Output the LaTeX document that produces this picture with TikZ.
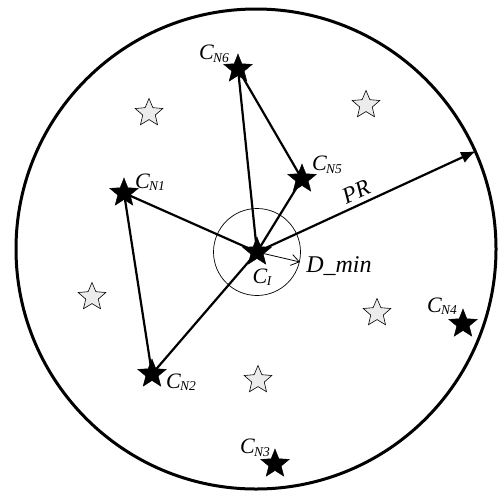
\documentclass[tikz,border=0pt]{standalone}
\usepackage{fontspec}
\setmainfont{Liberation Serif}
\usetikzlibrary{shapes.geometric,arrows.meta}
\newcommand\clab[1]{\fontsize{22}{22}\selectfont\itshape C\kern-0.5pt\raisebox{-2.5pt}{\fontsize{13.5}{13.5}\selectfont #1}}
\begin{document}
\begin{tikzpicture}[x=1pt,y=-1pt,
  bstar/.style={star,star points=5,star point ratio=2.3,minimum size=30pt,inner sep=0pt,fill=black,draw=black,line width=0.4pt},
  gstar/.style={star,star points=5,star point ratio=2.2,minimum size=29pt,inner sep=0pt,fill=gray!15,draw=black,line width=0.6pt},
  link/.style={line width=2.2pt},
  lbl/.style={inner sep=0pt}]
\useasboundingbox (0,0) rectangle (500,490);
\fill[white] (0,0) rectangle (500,490);
% outer circle
\node[circle,draw,line width=3pt,minimum size=480pt,inner sep=0pt] (range) at (256,249) {};
% stars
\node[gstar] (g1) at (149,113) {};
\node[gstar] (g2) at (366,105) {};
\node[gstar] (g3) at (92,297) {};
\node[gstar] (g4) at (377,313) {};
\node[gstar] (g5) at (258,380) {};
\node[bstar] (ci) at (257,252) {};
\node[bstar] (n1) at (124,193) {};
\node[bstar] (n2) at (152,374) {};
\node[bstar] (n3) at (275,464) {};
\node[bstar] (n4) at (463,324) {};
\node[bstar] (n5) at (302,179) {};
\node[bstar] (n6) at (238,69) {};
% min-distance circle
\draw[line width=0.7pt] (ci.center) circle (43.5);
% links
\draw[link] (ci.center) -- (n1.center);
\draw[link] (ci.center) -- (n6.center);
\draw[link] (ci.center) -- (n5.center);
\draw[link] (ci.center) -- (n2.center);
\draw[link] (n6.center) -- (n5.center);
\draw[link] (n1.center) -- (n2.center);
% PR arrow
\coordinate (prtip) at (476,151);
\draw[line width=2.2pt,-{Latex[length=15pt,width=12pt]}] (ci.center) -- (prtip);
\node[lbl,rotate=24.6] (prl) at (356,192) {\fontsize{23}{23}\selectfont\itshape PR};
% D_min arrow
\coordinate (dtip) at (300,262);
\draw[line width=0.8pt,-{Straight Barb[length=8pt,width=11pt]}] (ci.center) -- (dtip);
\node[lbl] (dl) at (339,266) {\fontsize{24}{24}\selectfont\itshape D\_min};
% labels
\node[lbl] (lci) at (262,277) {\clab{I}};
\node[lbl] (l1) at (150,182) {\clab{N1}};
\node[lbl] (l2) at (181,382) {\clab{N2}};
\node[lbl] (l3) at (255,448) {\clab{N3}};
\node[lbl] (l4) at (442,306) {\clab{N4}};
\node[lbl] (l5) at (327,165) {\clab{N5}};
\node[lbl] (l6) at (214,54) {\clab{N6}};
\end{tikzpicture}
\end{document}
